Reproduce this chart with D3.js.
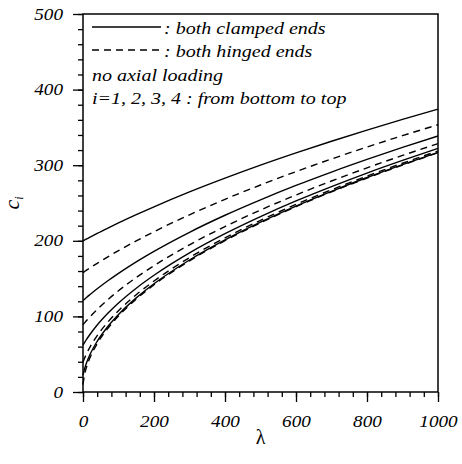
<!DOCTYPE html>
<html>
<head>
<meta charset="utf-8">
<script src="https://cdn.jsdelivr.net/npm/d3@7"></script>
<style>
  body { margin: 0; background: #fff; }
  svg { display: block; }
  text { font-family: "Liberation Serif", "Times New Roman", Times, serif; fill: #000; }
</style>
</head>
<body>
<svg id="chart" width="462" height="464"></svg>
<script>
(function () {
  'use strict';

  // values
  const lambdaVals = [0, 5, 10, 20, 40, 70, 100, 150, 200, 300, 400, 500, 600, 700, 800, 900, 1000];

  const clamped1 = [22.4, 31.6, 38.7, 50, 67.1, 86.6, 102.5, 124.5, 143.2, 174.6, 201.2, 224.7, 246.0, 265.5, 283.7, 300.8, 317.0];
  const clamped2 = [62, 65.9, 69.6, 76.4, 88.6, 104.1, 117.7, 137.3, 154.4, 184.0, 209.4, 232.0, 252.7, 271.7, 289.6, 306.3, 322.2];
  const clamped3 = [121, 123.0, 125.1, 129.0, 136.5, 147.1, 157.0, 172.2, 186.1, 211.3, 233.8, 254.2, 273.2, 290.9, 307.6, 323.5, 338.6];
  const clamped4 = [200, 201.2, 202.5, 204.9, 209.8, 216.8, 223.6, 234.5, 244.9, 264.6, 282.8, 300, 316.2, 331.7, 346.4, 360.6, 374.2];

  const hinged1 = [9.9, 24.5, 33.1, 45.8, 64.0, 84.2, 100.5, 122.9, 141.8, 173.5, 200.2, 223.8, 245.2, 264.8, 283.0, 300.2, 316.4];
  const hinged2 = [39.5, 45.4, 50.6, 59.7, 74.6, 92.5, 107.5, 128.7, 146.8, 177.7, 203.9, 227.1, 248.1, 267.5, 285.6, 302.6, 318.7];
  const hinged3 = [89, 91.8, 94.5, 99.6, 109.2, 122.2, 133.9, 151.4, 167.1, 194.7, 218.9, 240.7, 260.6, 279.1, 296.5, 312.9, 328.5];
  const hinged4 = [158, 159.6, 161.1, 164.2, 170.2, 178.8, 187.0, 199.9, 212.0, 234.4, 254.9, 273.8, 291.5, 308.2, 324.0, 339.1, 353.5];

  const xTicks = [0, 200, 400, 600, 800, 1000];
  const yTicks = [0, 100, 200, 300, 400, 500];

  const legendLines = [': both clamped ends', ': both hinged ends'];
  const noteLines = ['no axial loading', 'i=1, 2, 3, 4 : from bottom to top'];

  const svg = d3.select('#chart');
  const left = 83, right = 438, top = 14, bottom = 392;
  const stretch = 1.2; // the scanned font is wider than Times
  const legendStretch = 1.25;
  const serif = '"Liberation Serif", "Times New Roman", Times, serif';

  const x = d3.scaleLinear().domain([0, 1000]).range([left, right]);
  const y = d3.scaleLinear().domain([0, 500]).range([bottom, top]);

  // axes: minor ticks first, then major ones with labels
  const xMinor = d3.axisBottom(x).tickValues(d3.range(0, 1001, 40)).tickSize(5).tickFormat('');
  const xMajor = d3.axisBottom(x).tickValues(xTicks).tickSize(10).tickPadding(14).tickFormat(d3.format('d'));
  const yMinor = d3.axisLeft(y).tickValues(d3.range(0, 501, 20)).tickSize(5).tickFormat('');
  const yMajor = d3.axisLeft(y).tickValues(yTicks).tickSize(10).tickPadding(10).tickFormat(d3.format('d'));

  [xMinor, xMajor].forEach(function (ax) {
    svg.append('g').attr('class', 'axis').attr('transform', 'translate(0,' + bottom + ')').call(ax);
  });
  [yMinor, yMajor].forEach(function (ax) {
    svg.append('g').attr('class', 'axis').attr('transform', 'translate(' + left + ',0)').call(ax);
  });

  svg.selectAll('.axis').attr('font-family', serif);
  svg.selectAll('.axis .domain').remove();
  svg.selectAll('.axis line').attr('stroke', '#000').attr('stroke-width', 1.3);
  svg.selectAll('.axis text')
    .attr('font-family', serif)
    .attr('font-style', 'italic')
    .attr('font-size', 16);

  // widen the tick labels a bit
  svg.selectAll('.axis text').each(function () {
    const t = d3.select(this);
    t.attr('x', +t.attr('x') / stretch).attr('transform', 'scale(' + stretch + ',1)');
  });

  // frame
  svg.append('rect')
    .attr('x', left).attr('y', top)
    .attr('width', right - left).attr('height', bottom - top)
    .attr('fill', 'none').attr('stroke', '#000').attr('stroke-width', 1.5);

  // curves
  const line = d3.line()
    .x(function (d) { return x(d[0]); })
    .y(function (d) { return y(d[1]); })
    .curve(d3.curveMonotoneX);

  const series = [
    { vals: clamped1, dash: null },
    { vals: clamped2, dash: null },
    { vals: clamped3, dash: null },
    { vals: clamped4, dash: null },
    { vals: hinged1, dash: '7,5' },
    { vals: hinged2, dash: '7,5' },
    { vals: hinged3, dash: '7,5' },
    { vals: hinged4, dash: '7,5' }
  ];

  series.forEach(function (s) {
    svg.append('path')
      .datum(d3.zip(lambdaVals, s.vals))
      .attr('d', line)
      .attr('fill', 'none')
      .attr('stroke', '#000')
      .attr('stroke-width', 1.4)
      .attr('stroke-dasharray', s.dash);
  });

  // legend
  const legendRows = [34, 57, 81, 104];
  const italicText = function (tx, ty, str) {
    svg.append('text')
      .attr('transform', 'translate(' + tx + ',' + ty + ') scale(' + legendStretch + ',1)')
      .attr('font-family', serif)
      .attr('font-style', 'italic')
      .attr('font-size', 16)
      .text(str);
  };

  legendLines.forEach(function (str, i) {
    svg.append('line')
      .attr('x1', 92).attr('x2', 161)
      .attr('y1', legendRows[i] - 7).attr('y2', legendRows[i] - 7)
      .attr('stroke', '#000').attr('stroke-width', 1.3)
      .attr('stroke-dasharray', i === 1 ? '7,5' : null);
    italicText(164, legendRows[i], str);
  });
  noteLines.forEach(function (str, i) {
    italicText(92, legendRows[i + 2], str);
  });

  // axis titles
  svg.append('text')
    .attr('x', (left + right) / 2).attr('y', 444)
    .attr('text-anchor', 'middle')
    .attr('font-family', serif)
    .attr('font-size', 20)
    .text('λ');

  const yTitle = svg.append('text')
    .attr('transform', 'translate(19,' + ((top + bottom) / 2) + ') rotate(-90)')
    .attr('text-anchor', 'middle')
    .attr('font-family', serif)
    .attr('font-style', 'italic')
    .attr('font-size', 22);
  yTitle.append('tspan').text('c');
  yTitle.append('tspan').attr('font-size', 12).attr('dy', 4).text('i');
}());
</script>
</body>
</html>
